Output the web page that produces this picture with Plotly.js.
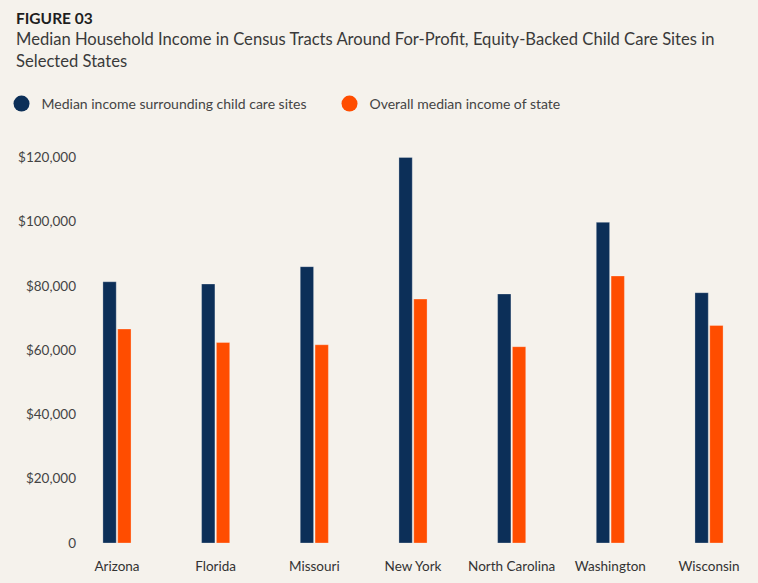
<!DOCTYPE html>
<html>
<head>
<meta charset="utf-8">
<script src="https://cdn.plot.ly/plotly-3.0.1.min.js"></script>
<style>
  html, body { margin: 0; padding: 0; background: #f5f2ec; }
  #chart { width: 758px; height: 583px; }
</style>
</head>
<body>
<div id="chart"></div>
<script>
// States shown on the category axis
const states = ['Arizona', 'Florida', 'Missouri', 'New York', 'North Carolina', 'Washington', 'Wisconsin'];

// Median household income in tracts around for-profit, equity-backed child care sites
const incomeNearSites = [81300, 80600, 86000, 120000, 77500, 99800, 77900];

// Overall median household income of each state
const incomeStateMedian = [66600, 62400, 61700, 75900, 61100, 83100, 67700];

// Y-axis ticks
const yTickValues = [0, 20000, 40000, 60000, 80000, 100000, 120000];
const yTickLabels = ['0', '$20,000', '$40,000', '$60,000', '$80,000', '$100,000', '$120,000'];

const seriesNames = ['Median income surrounding child care sites', 'Overall median income of state'];

const NAVY = '#0c2f58';
const ORANGE = '#ff4d00';
const BG = '#f5f2ec';
const FONT = 'Lato, "Open Sans", sans-serif';

const traces = [
  {
    type: 'bar', x: states, y: incomeNearSites, name: seriesNames[0],
    marker: { color: NAVY, line: { color: 'rgba(255,255,255,0.35)', width: 0.8 } },
    showlegend: false, hoverinfo: 'skip'
  },
  {
    type: 'bar', x: states, y: incomeStateMedian, name: seriesNames[1],
    marker: { color: ORANGE, line: { color: 'rgba(255,255,255,0.35)', width: 0.8 } },
    showlegend: false, hoverinfo: 'skip'
  },
  // Legend entries drawn as round markers
  {
    type: 'scatter', mode: 'markers', x: [null], y: [null], name: seriesNames[0],
    marker: { color: NAVY, size: 16, symbol: 'circle' }, showlegend: true
  },
  {
    type: 'scatter', mode: 'markers', x: [null], y: [null], name: seriesNames[1],
    marker: { color: ORANGE, size: 16, symbol: 'circle' }, showlegend: true
  }
];

const plotLeft = 85, plotWidth = 663;
const px = (x) => (x - plotLeft) / plotWidth;

const layout = {
  width: 758,
  height: 583,
  paper_bgcolor: BG,
  plot_bgcolor: BG,
  font: { family: FONT, color: '#3a3a3a' },
  margin: { l: plotLeft, r: 758 - plotLeft - plotWidth, t: 151, b: 40, pad: 0 },
  barmode: 'group',
  bargap: 0.70,
  bargroupgap: 0.1,
  showlegend: true,
  legend: {
    orientation: 'h',
    xref: 'container', yref: 'container',
    x: 0.002, xanchor: 'left',
    y: 1 - 88 / 583, yanchor: 'top',
    entrywidth: 283, entrywidthmode: 'pixels',
    font: { family: FONT, size: 14, color: '#444' },
    bgcolor: 'rgba(0,0,0,0)',
    itemwidth: 30
  },
  xaxis: {
    type: 'category',
    range: [-0.324, 6.395],
    showgrid: false, zeroline: false, showline: false, ticks: '',
    tickfont: { family: FONT, size: 13.5, color: '#333' },
    ticklabelstandoff: 13,
    fixedrange: true
  },
  yaxis: {
    range: [0, 122000],
    tickvals: yTickValues,
    ticktext: yTickLabels,
    showgrid: false, zeroline: false, showline: false, ticks: '',
    tickfont: { family: FONT, size: 13.5, color: '#444' },
    ticklabelstandoff: 8,
    fixedrange: true
  },
  annotations: [
    {
      xref: 'paper', yref: 'paper', x: px(14), y: 1 + (151 - 7) / 392,
      xanchor: 'left', yanchor: 'top', showarrow: false, align: 'left',
      text: '<b>FIGURE 03</b>',
      font: { family: FONT, size: 15.5, color: '#1e1e1e' }
    },
    {
      xref: 'paper', yref: 'paper', x: px(14), y: 1 + (151 - 27) / 392,
      xanchor: 'left', yanchor: 'top', showarrow: false, align: 'left',
      text: 'Median Household Income in Census Tracts Around For-Profit, Equity-Backed Child Care Sites in<br>Selected States',
      font: { family: FONT, size: 16.6, color: '#3a3a3a' }
    }
  ]
};

Plotly.newPlot('chart', traces, layout, { staticPlot: true, displayModeBar: false });
</script>
</body>
</html>
